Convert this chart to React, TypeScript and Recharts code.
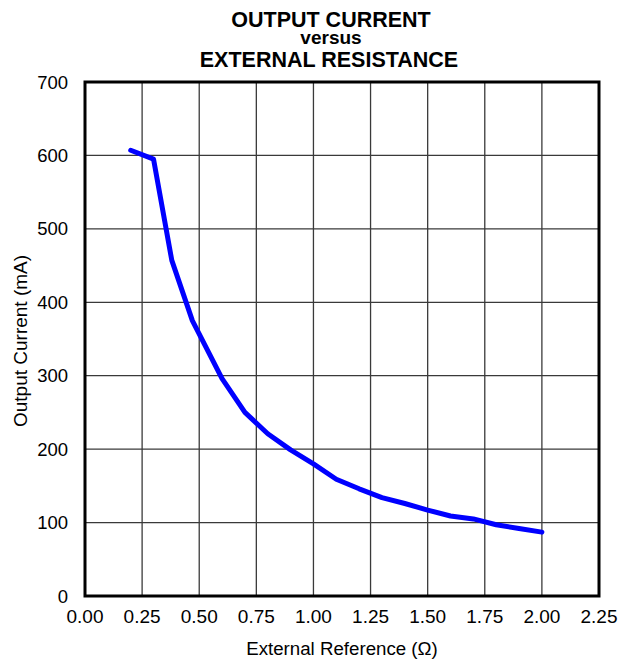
import React from "react";
import { LineChart, Line, XAxis, YAxis, CartesianGrid, ReferenceArea, Label } from "recharts";

const resistance = [0.2, 0.3, 0.38, 0.47, 0.6, 0.7, 0.8, 0.9, 1.0, 1.1, 1.2, 1.3, 1.4, 1.5, 1.6, 1.7, 1.8, 1.9, 2.0];
const currentMA = [607, 595, 457, 375, 296, 250, 221, 199, 180, 159, 146, 134, 126, 117, 109, 105, 97, 92, 87];
const xTicks = [0, 0.25, 0.5, 0.75, 1.0, 1.25, 1.5, 1.75, 2.0, 2.25];
const yTicks = [0, 100, 200, 300, 400, 500, 600, 700];
const titleLines = ["OUTPUT CURRENT", "versus", "EXTERNAL RESISTANCE"];

const data = resistance.map((r, i) => ({ r, i: currentMA[i] }));
const FONT = "'Liberation Sans', Arial, sans-serif";

export default function App() {
  return (
    <div style={{ position: "absolute", left: 0, top: 0, width: 619, height: 663, background: "#fff" }}>
      <LineChart
        width={619}
        height={663}
        data={data}
        margin={{ top: 82, right: 20, bottom: 0, left: 0 }}
        style={{ fontFamily: FONT }}
      >
        <CartesianGrid stroke="#3a3a3a" strokeWidth={1.3} />
        <XAxis
          dataKey="r"
          type="number"
          domain={[0, 2.25]}
          ticks={xTicks}
          tickFormatter={(v: number) => v.toFixed(2)}
          axisLine={false}
          tickLine={false}
          tickSize={0}
          tickMargin={14}
          height={67}
          tick={{ fill: "#000", fontSize: 19, fontFamily: FONT }}
          interval={0}
        >
          <Label
            content={() => (
              <text x={342} y={655} textAnchor="middle" fontSize={18.7} fontFamily={FONT} fill="#000">
                External Reference (Ω)
              </text>
            )}
          />
        </XAxis>
        <YAxis
          type="number"
          domain={[0, 700]}
          ticks={yTicks}
          axisLine={false}
          tickLine={false}
          tickSize={0}
          tickMargin={17}
          width={85}
          tick={{ fill: "#000", fontSize: 18.5, fontFamily: FONT }}
          interval={0}
        >
          <Label
            content={() => (
              <text
                x={20}
                y={341}
                transform="rotate(-90 20 341)"
                textAnchor="middle"
                dominantBaseline="central"
                fontSize={19}
                fontFamily={FONT}
                fill="#000"
              >
                Output Current (mA)
              </text>
            )}
          />
        </YAxis>
        <ReferenceArea x1={0} x2={2.25} y1={0} y2={700} fill="none" stroke="#000" strokeWidth={3} />
        <Line
          type="linear"
          dataKey="i"
          stroke="#0000ff"
          strokeWidth={5}
          dot={false}
          isAnimationActive={false}
          strokeLinejoin="round"
          strokeLinecap="round"
        />
      </LineChart>
      <svg
        width={619}
        height={75}
        style={{ position: "absolute", left: 0, top: 0, pointerEvents: "none" }}
      >
        <text x={331} y={27} textAnchor="middle" fontFamily={FONT} fontWeight="bold" fontSize={21.5} fill="#000">
          {titleLines[0]}
        </text>
        <text x={331} y={44} textAnchor="middle" fontFamily={FONT} fontWeight="bold" fontSize={19} fill="#000">
          {titleLines[1]}
        </text>
        <text x={329} y={66.5} textAnchor="middle" fontFamily={FONT} fontWeight="bold" fontSize={21.5} fill="#000">
          {titleLines[2]}
        </text>
      </svg>
    </div>
  );
}
